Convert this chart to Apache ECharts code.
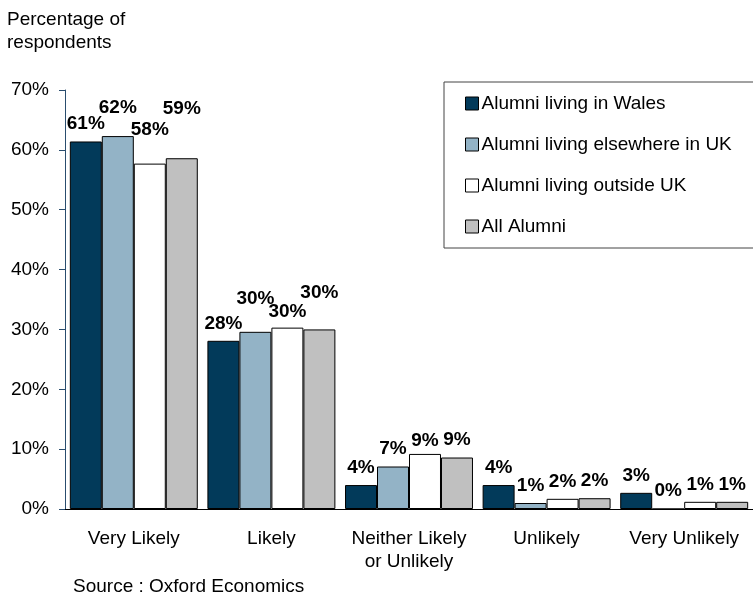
<!DOCTYPE html>
<html>
<head>
<meta charset="utf-8">
<title>Likelihood of recommending - alumni</title>
<script src="https://cdn.jsdelivr.net/npm/echarts@6/dist/echarts.min.js"></script>
<style>
  html, body { margin: 0; padding: 0; background: #fff; }
  #chart { width: 753px; height: 599px; }
</style>
</head>
<body>
<div id="chart"></div>
<script>
// values (% of respondents)
const categories = ['Very Likely', 'Likely', 'Neither Likely\nor Unlikely', 'Unlikely', 'Very Unlikely'];
const seriesNames = ['Alumni living in Wales', 'Alumni living elsewhere in UK', 'Alumni living outside UK', 'All Alumni'];
const wales = [61.4, 28.1, 4.0, 4.0, 2.7];
const elsewhereUK = [62.3, 29.6, 7.1, 1.0, 0.0];
const outsideUK = [57.7, 30.3, 9.2, 1.7, 1.2];
const allAlumni = [58.6, 30.0, 8.6, 1.8, 1.2];
const yTicks = [0, 10, 20, 30, 40, 50, 60, 70];

const colors = ['#023a5a', '#93b3c6', '#ffffff', '#c0c0c0'];
// extra upward nudge (px) of some value labels, as they were dragged in the original
const labelNudge = [
  [0, 0, 0, 0, 0],
  [11, 16, 0, 0, 0],
  [16, -2, -4, 0, 0],
  [32, 19, 0, 0, 0]
];

const font = '"Liberation Sans", Arial, sans-serif';
const chart = echarts.init(document.getElementById('chart'));

const seriesData = [wales, elsewhereUK, outsideUK, allAlumni];

chart.setOption({
  animation: false,
  textStyle: { fontFamily: font },
  graphic: [
    { type: 'text', left: 7, top: 8, style: { text: 'Percentage of\nrespondents', font: '19px ' + font, fill: '#000', lineHeight: 23 } },
    { type: 'text', left: 73, top: 577, style: { text: 'Source : Oxford Economics', font: '19px ' + font, fill: '#000' } }
  ],
  legend: {
    orient: 'vertical',
    left: 444,
    top: 82,
    backgroundColor: '#fff',
    borderColor: '#444',
    borderWidth: 1,
    padding: [12, 24, 12, 21],
    itemGap: 22,
    itemWidth: 13,
    itemHeight: 13,
    icon: 'rect',
    itemStyle: { borderColor: '#000', borderWidth: 1 },
    textStyle: { fontFamily: font, fontSize: 19, color: '#000', padding: [0, 0, 0, -2] },
    data: seriesNames
  },
  grid: { left: 65, right: 0, top: 90, bottom: 90 },
  xAxis: {
    type: 'category',
    data: categories,
    axisLine: { lineStyle: { color: '#000', width: 1 } },
    axisTick: { length: 6, lineStyle: { color: '#000' } },
    axisLabel: { interval: 0, color: '#000', fontSize: 19, margin: 18, lineHeight: 23, fontFamily: font }
  },
  yAxis: {
    type: 'value',
    min: yTicks[0],
    max: yTicks[yTicks.length - 1],
    interval: 10,
    splitLine: { show: false },
    axisLine: { show: true, lineStyle: { color: '#2a4d6e', width: 1 } },
    axisTick: { show: true, length: 6, lineStyle: { color: '#2a4d6e' } },
    axisLabel: { color: '#000', fontSize: 19, margin: 16, fontFamily: font, formatter: v => v + '%' }
  },
  series: seriesData.map((vals, s) => ({
    name: seriesNames[s],
    type: 'bar',
    barGap: '0%',
    barCategoryGap: '7%',
    itemStyle: { color: colors[s], borderColor: '#000', borderWidth: 1 },
    label: {
      show: true,
      position: 'top',
      distance: 8,
      color: '#000',
      fontSize: 19,
      fontWeight: 'bold',
      fontFamily: font,
      formatter: p => Math.round(p.value) + '%'
    },
    data: vals.map((v, i) => ({
      value: v,
      label: { offset: [0, -labelNudge[s][i]] }
    }))
  }))
});
</script>
</body>
</html>
